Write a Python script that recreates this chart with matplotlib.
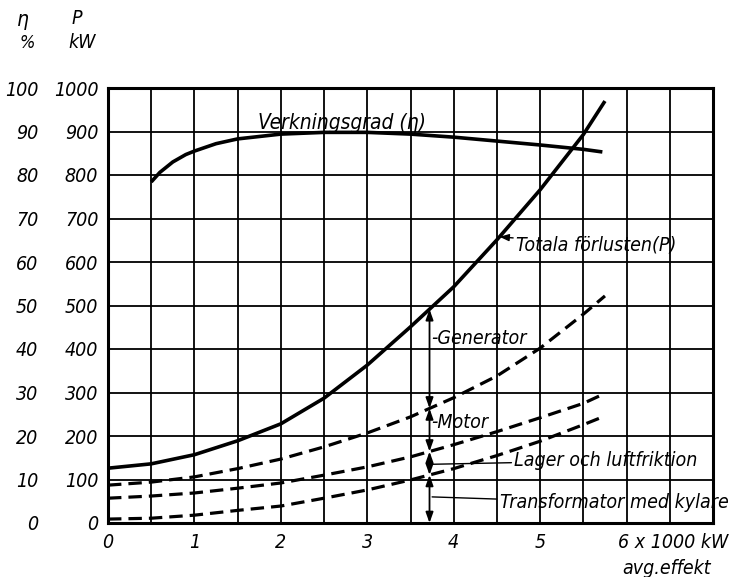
import numpy as np
import matplotlib
matplotlib.use('Agg')
import matplotlib.pyplot as plt

# effekt i 1000 kW
effekt = [0, 0.5, 1, 1.5, 2, 2.5, 3, 3.5, 4, 4.5, 5, 5.5, 5.75]
# förluster i kW
totala = [126, 136, 157, 189, 228, 287, 363, 451, 543, 651, 766, 893, 970]
motor_grans = [87, 94, 106, 125, 147, 175, 207, 244, 288, 338, 402, 480, 522]
lager_grans = [57, 62, 69, 80, 92, 110, 129, 152, 180, 210, 242, 275, 298]
trafo_grans = [9, 11, 18, 29, 39, 57, 76, 99, 125, 155, 188, 226, 246]

# verkningsgrad i %
effekt_eta = [0.5, 0.6, 0.75, 0.9, 1, 1.25, 1.5, 2, 2.5, 3, 3.5, 4, 4.5, 5, 5.5, 5.72]
eta = [78.4, 80.6, 83.0, 84.7, 85.5, 87.2, 88.3, 89.4, 89.8, 89.8, 89.4, 88.7, 87.8, 86.9, 85.9, 85.3]

x_ticks = [0, 1, 2, 3, 4, 5]
p_ticks = list(range(0, 1001, 100))
eta_ticks = list(range(0, 101, 10))
x_pil = 3.72  # mätlinje för delförlusterna

plt.rcParams['font.family'] = ['DejaVu Sans']
plt.rcParams['font.style'] = 'italic'
plt.rcParams['font.stretch'] = 'condensed'
plt.rcParams['font.size'] = 14

fig = plt.figure(figsize=(7.36, 5.77), dpi=100)
ax = fig.add_axes([108 / 736, 54 / 577, 605 / 736, 435 / 577])
ax.set_xlim(0, 7)
ax.set_ylim(0, 1000)

# rutnät
ax.set_xticks(np.arange(0, 7.01, 0.5))
ax.set_xticklabels(['' if v not in x_ticks else str(int(v)) for v in np.arange(0, 7.01, 0.5)])
ax.set_yticks(p_ticks)
ax.set_yticklabels([str(v) for v in p_ticks])
ax.grid(True, color='k', lw=1.3)
ax.tick_params(length=0, pad=7)
for s in ax.spines.values():
    s.set_linewidth(2.2)

sec = ax.secondary_yaxis(-0.099, functions=(lambda p: p / 10, lambda e: e * 10))
sec.set_yticks(eta_ticks)
sec.set_yticklabels([str(v) for v in eta_ticks])
sec.tick_params(length=0, pad=7)
sec.spines['left'].set_visible(False)

# kurvor
ax.plot(effekt, totala, color='k', lw=2.6, solid_capstyle='butt')
ax.plot(effekt_eta, np.array(eta) * 10, color='k', lw=2.6, solid_capstyle='butt')
for serie in (motor_grans, lager_grans, trafo_grans):
    ax.plot(effekt, serie, color='k', lw=2.3, dashes=(4.2, 2.2))

# pilar vid x_pil
nivaer = [0,
          np.interp(x_pil, effekt, trafo_grans),
          np.interp(x_pil, effekt, lager_grans),
          np.interp(x_pil, effekt, motor_grans),
          np.interp(x_pil, effekt, totala)]
for lo, hi in zip(nivaer[:-1], nivaer[1:]):
    ax.annotate('', xy=(x_pil, hi), xytext=(x_pil, lo),
                arrowprops=dict(arrowstyle='<|-|>,head_length=0.45,head_width=0.16',
                                lw=1.3, color='k', shrinkA=0, shrinkB=0))

# texter
ax.text(1.73, 905, 'Verkningsgrad (η)', ha='left', va='baseline', fontsize=15)
x_tot = 4.53
ax.annotate('Totala förlusten(P)', xy=(x_tot, np.interp(x_tot, effekt, totala)),
            xytext=(4.72, 640), ha='left', va='center', fontsize=14,
            arrowprops=dict(arrowstyle='-|>,head_length=0.4,head_width=0.15',
                            lw=1.0, color='k', shrinkA=0, shrinkB=0))
ax.text(x_pil + 0.02, 425, '-Generator', ha='left', va='center', fontsize=14)
ax.text(x_pil + 0.02, 232, '-Motor', ha='left', va='center', fontsize=14)
ax.annotate('Lager och luftfriktion', xy=(x_pil + 0.03, 135), xytext=(4.7, 143),
            ha='left', va='center', fontsize=14,
            arrowprops=dict(arrowstyle='-', lw=1.0, color='k', shrinkA=0, shrinkB=0))
ax.annotate('Transformator med kylare', xy=(x_pil + 0.03, 60), xytext=(4.53, 46),
            ha='left', va='center', fontsize=14, annotation_clip=False,
            arrowprops=dict(arrowstyle='-', lw=1.0, color='k', shrinkA=0, shrinkB=0))

# axelenheter
ax.text(5.9, -19 / 0.435, '6 x 1000 kW', ha='left', va='center', fontsize=14,
        clip_on=False)
ax.text(5.95, -45 / 0.435, 'avg.effekt', ha='left', va='center', fontsize=14,
        clip_on=False)
fig.text(23 / 736, 1 - 20 / 577, 'η', ha='center', va='center', fontsize=15)
fig.text(27 / 736, 1 - 43 / 577, '%', ha='center', va='center', fontsize=13)
fig.text(77 / 736, 1 - 19 / 577, 'P', ha='center', va='center', fontsize=14)
fig.text(82 / 736, 1 - 42 / 577, 'kW', ha='center', va='center', fontsize=14)

fig.savefig('out.png', dpi=100)
